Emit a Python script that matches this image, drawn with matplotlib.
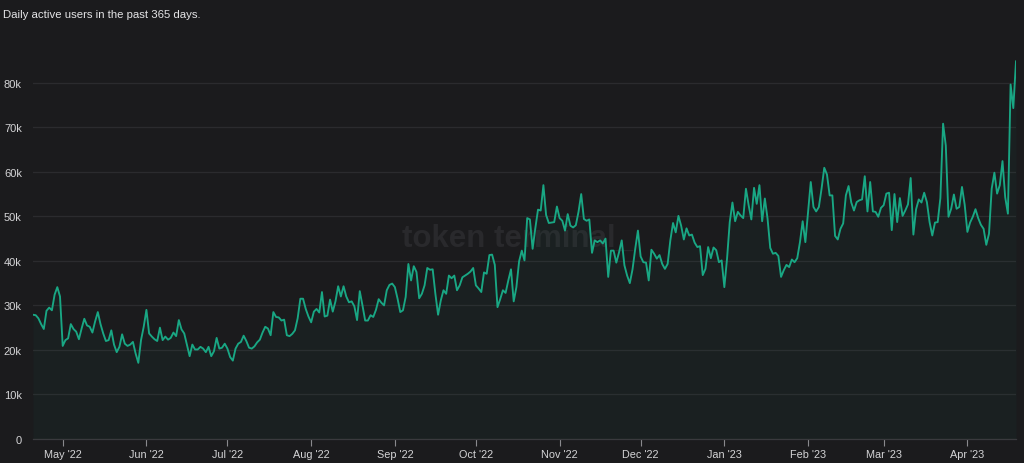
import matplotlib
matplotlib.use("Agg")
import matplotlib.pyplot as plt
import matplotlib.dates as mdates
import numpy as np
import pandas as pd

TITLE = "Daily active users in the past 365 days."
START_DATE = "2022-04-20"

# daily active users, in thousands, one value per day from START_DATE
dau_k = [
    27.9, 27.8, 27.1, 25.8, 24.7, 28.8, 29.5, 28.9, 32.4, 34.1,
    32.0, 20.9, 22.2, 22.6, 25.8, 24.7, 24.1, 22.4, 24.8, 27.0,
    25.5, 25.2, 23.9, 26.4, 28.5, 25.8, 23.7, 22.0, 22.2, 24.4,
    21.2, 19.5, 20.7, 23.5, 21.4, 20.9, 21.2, 21.8, 19.2, 17.1,
    22.2, 25.2, 29.0, 23.7, 23.0, 22.4, 22.0, 25.0, 22.2, 23.0,
    22.3, 22.7, 23.9, 23.1, 26.7, 24.6, 23.7, 21.2, 18.6, 21.2,
    20.1, 20.1, 20.7, 20.3, 19.5, 20.7, 18.6, 19.7, 22.7, 20.3,
    20.5, 21.4, 20.3, 18.4, 17.6, 20.3, 21.4, 21.8, 23.2, 22.0,
    20.5, 20.3, 20.8, 21.7, 22.3, 23.9, 25.2, 24.8, 23.3, 28.5,
    27.4, 27.3, 26.6, 26.8, 23.3, 23.1, 23.6, 24.4, 27.1, 31.5,
    31.5, 29.2, 27.5, 26.2, 28.6, 29.2, 28.4, 33.0, 27.5, 27.7,
    31.3, 28.6, 30.9, 34.3, 32.0, 34.3, 32.0, 30.7, 30.9, 29.8,
    26.7, 33.2, 30.0, 26.6, 26.6, 27.8, 27.4, 29.0, 31.4, 30.6,
    30.0, 33.4, 34.6, 34.9, 34.1, 31.5, 28.5, 28.9, 31.9, 39.3,
    35.6, 38.8, 37.5, 31.6, 32.6, 34.5, 38.4, 38.0, 38.1, 32.6,
    27.9, 31.1, 33.4, 32.6, 36.7, 36.1, 36.7, 33.4, 34.5, 36.3,
    36.7, 37.1, 37.6, 38.4, 34.5, 33.8, 33.0, 37.4, 37.1, 41.3,
    41.4, 39.1, 29.6, 31.4, 33.4, 32.8, 35.6, 38.1, 30.9, 34.1,
    39.9, 42.3, 40.1, 49.6, 49.3, 42.7, 47.3, 51.5, 51.3, 57.0,
    50.3, 48.5, 48.6, 48.7, 52.2, 49.6, 49.0, 46.8, 50.5, 47.9,
    47.5, 48.0, 51.0, 55.0, 49.4, 49.0, 49.3, 41.8, 44.6, 44.2,
    44.6, 43.9, 45.0, 36.4, 42.3, 42.3, 39.6, 41.9, 44.6, 39.0,
    36.7, 35.0, 38.1, 42.7, 46.8, 41.0, 39.7, 39.6, 35.6, 42.5,
    41.6, 40.5, 41.3, 39.3, 38.2, 39.3, 44.6, 48.5, 46.4, 50.1,
    47.9, 44.8, 47.3, 45.7, 45.9, 44.1, 43.1, 43.3, 36.8, 38.2,
    43.1, 40.6, 43.0, 42.4, 39.7, 40.1, 34.1, 40.5, 48.7, 53.1,
    48.9, 51.0, 50.2, 49.6, 56.2, 52.5, 49.3, 56.4, 52.8, 57.0,
    48.9, 54.0, 49.5, 42.9, 41.6, 41.8, 41.1, 36.4, 37.9, 39.1,
    38.6, 40.3, 39.7, 40.6, 44.2, 48.9, 44.2, 51.0, 57.7, 52.1,
    51.1, 52.1, 56.2, 60.9, 59.4, 54.7, 54.7, 45.6, 44.8, 47.2,
    48.4, 54.7, 56.8, 53.1, 51.3, 53.2, 53.6, 53.8, 59.0, 51.1,
    57.7, 51.1, 51.0, 49.9, 51.9, 52.5, 55.1, 55.3, 46.9, 55.0,
    48.7, 54.1, 50.1, 51.3, 52.7, 58.6, 45.9, 51.6, 53.8, 53.1,
    55.3, 53.2, 48.7, 45.7, 48.6, 48.7, 54.1, 70.8, 65.9, 49.9,
    51.7, 54.9, 51.7, 52.1, 56.6, 52.6, 46.5, 48.6, 49.9, 51.6,
    49.6, 48.1, 47.2, 43.6, 46.1, 56.2, 59.8, 55.1, 57.0, 62.4,
    54.3, 50.6, 79.6, 74.3, 84.8,
]

y_ticks = [0, 10000, 20000, 30000, 40000, 50000, 60000, 70000, 80000]
y_labels = ["0", "10k", "20k", "30k", "40k", "50k", "60k", "70k", "80k"]

BG = "#1b1b1d"
LINE = "#19a784"
GRID = "#2b2b2e"
TEXT = "#d4d4d6"

values = np.array(dau_k) * 1000
dates = pd.date_range(START_DATE, periods=len(values), freq="D")

plt.rcParams["font.family"] = ["Liberation Sans", "DejaVu Sans"]

fig = plt.figure(figsize=(10.24, 4.64), dpi=100)
fig.patch.set_facecolor(BG)
ax = fig.add_axes([33 / 1024, 24 / 464, 983 / 1024, 383 / 464])
ax.set_facecolor(BG)

ax.fill_between(dates, values, 0, color=LINE, alpha=0.04, linewidth=0, zorder=2)
ax.plot(dates, values, color=LINE, linewidth=1.35, zorder=3)

ax.text(0.493, 0.525, "token terminal_", transform=ax.transAxes, ha="center", va="center",
        fontsize=22.5, fontweight="bold", color="#29292c", zorder=1)

ax.set_xlim(dates[0], dates[-1])
ax.set_ylim(0, 86000)
ax.set_yticks(y_ticks)
ax.set_yticklabels(y_labels)
ax.grid(axis="y", color=GRID, linewidth=0.9, zorder=0)
ax.xaxis.set_major_locator(mdates.MonthLocator())
ax.xaxis.set_major_formatter(mdates.DateFormatter("%b '%y"))

ax.tick_params(axis="y", length=0, pad=8, labelsize=8, labelcolor=TEXT)
ax.tick_params(axis="x", length=5, width=0.8, color="#8a8a8e", pad=2, labelsize=7.8, labelcolor=TEXT)

for name, spine in ax.spines.items():
    spine.set_visible(name == "bottom")
ax.spines["bottom"].set_color("#3a3a3e")
ax.spines["bottom"].set_linewidth(0.9)

fig.text(3 / 1024, 1 - 14.5 / 464, TITLE, ha="left", va="center", fontsize=8.2, color="#e4e4e6")

fig.savefig("out.png", dpi=100, facecolor=fig.get_facecolor())
plt.close(fig)
